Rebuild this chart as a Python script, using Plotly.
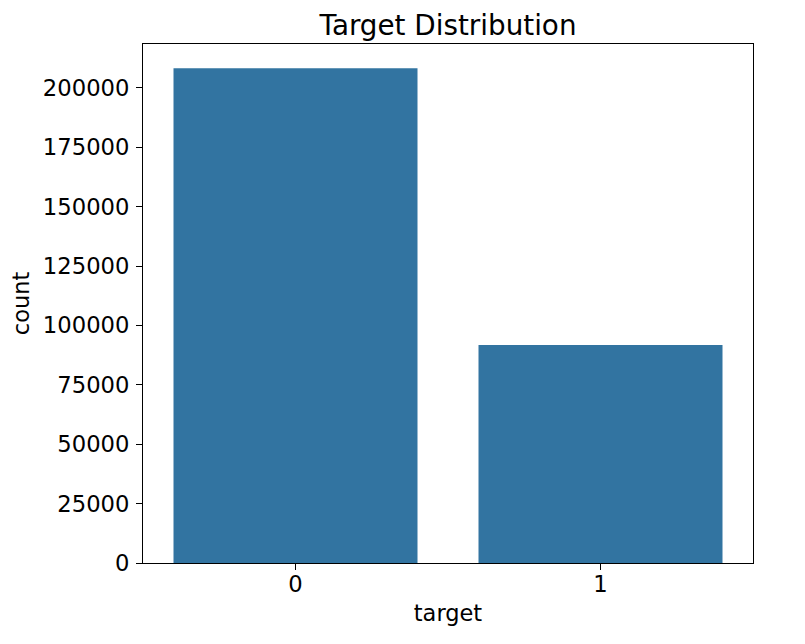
import plotly.graph_objects as go

categories = ["0", "1"]
counts = [208200, 91800]
y_ticks = [0, 25000, 50000, 75000, 100000, 125000, 150000, 175000, 200000]
y_tick_labels = [str(v) for v in y_ticks]

bar_color = "#3274a1"
font_family = "DejaVu Sans, Arial, sans-serif"

fig = go.Figure(
    go.Bar(
        x=categories,
        y=counts,
        marker=dict(color=bar_color, line=dict(width=0)),
        width=0.8,
    )
)

axis_common = dict(
    showline=True,
    linecolor="black",
    linewidth=1,
    mirror=True,
    ticks="outside",
    ticklen=6,
    tickwidth=1,
    tickcolor="black",
    showgrid=False,
    zeroline=False,
    tickfont=dict(family=font_family, size=22.7, color="black"),
)

# page body has an 8px margin, so figure origin is at (8, 8) in the window
fig.update_layout(
    width=805,
    height=644,
    paper_bgcolor="white",
    plot_bgcolor="white",
    margin=dict(l=135, r=60, t=36, b=89),
    showlegend=False,
    title=dict(
        text="Target Distribution",
        font=dict(family=font_family, size=27.8, color="black"),
        x=0.5,
        xref="paper",
        xanchor="center",
        y=1 - 17 / 644,
        yref="container",
        yanchor="middle",
    ),
    xaxis=dict(
        **axis_common,
        type="category",
        range=[-0.5, 1.5],
        ticklabelstandoff=-5,
        title=dict(text="target", font=dict(family=font_family, size=22.5, color="black"), standoff=9),
    ),
    yaxis=dict(
        **axis_common,
        range=[0, 218450],
        tickvals=y_ticks,
        ticktext=y_tick_labels,
        ticklabelstandoff=2,
        title=dict(text="count", font=dict(family=font_family, size=22.5, color="black"), standoff=6),
    ),
)

fig.write_html("out.html")
